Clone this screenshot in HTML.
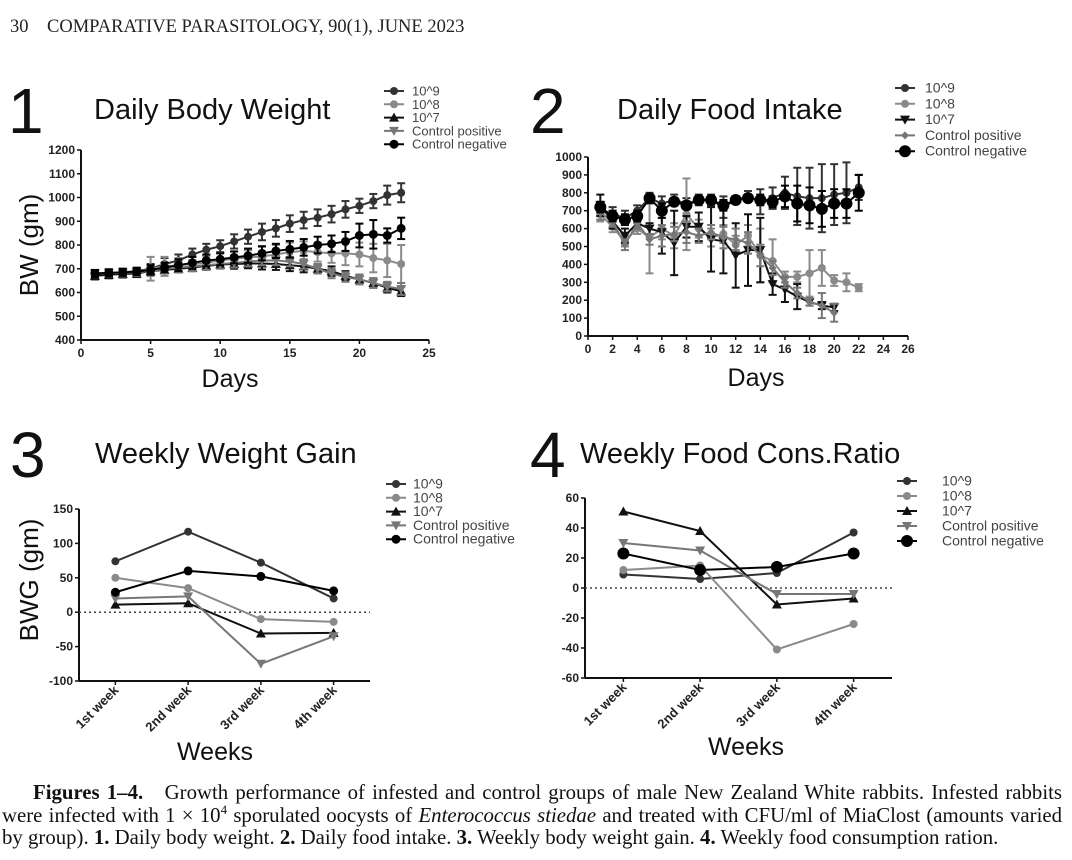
<!DOCTYPE html>
<html><head><meta charset="utf-8"><style>
body{margin:0;background:#fff;width:1072px;height:860px;overflow:hidden;position:relative;font-family:"Liberation Serif",serif}
.hdr{position:absolute;left:10px;top:17px;font-size:18.5px;color:#222}
.cap{position:absolute;left:2px;width:1060px;font-size:20.8px;line-height:22px;color:#111;text-align:justify;text-align-last:justify;white-space:nowrap}
svg{position:absolute;left:0;top:0}
</style></head><body>
<div class="hdr">30&nbsp;&nbsp;&nbsp;&nbsp;COMPARATIVE PARASITOLOGY, 90(1), JUNE 2023</div>
<svg id="fig" width="1072" height="780"></svg>
<div class="cap" style="top:782px;left:33px;width:1029px"><b>Figures 1–4.</b>&nbsp;&nbsp; Growth performance of infested and control groups of male New Zealand White rabbits. Infested rabbits</div>
<div class="cap" style="top:805px">were infected with 1 × 10<sup style="font-size:13px;line-height:0">4</sup> sporulated oocysts of <i>Enterococcus stiedae</i> and treated with CFU/ml of MiaClost (amounts varied</div>
<div class="cap" style="top:827px;text-align-last:left;width:auto">by group). <b>1.</b> Daily body weight. <b>2.</b> Daily food intake. <b>3.</b> Weekly body weight gain. <b>4.</b> Weekly food consumption ration.</div>
<script>
// ---- data ----
const seriesNames = ["10^9","10^8","10^7","Control positive","Control negative"];
const p1Days = [1,2,3,4,5,6,7,8,9,10,11,12,13,14,15,16,17,18,19,20,21,22,23];
const p1_e9 = [675,680,685,690,700,720,735,760,780,795,815,835,855,870,890,905,915,930,950,965,985,1010,1020];
const p1_e8 = [670,675,680,685,700,710,715,720,725,735,742,748,752,760,770,775,770,765,765,760,745,735,720];
const p1_e7 = [670,675,678,680,690,695,700,705,712,718,720,722,722,720,715,710,700,690,670,655,640,620,605];
const p1_cp = [680,682,683,685,690,700,705,710,715,720,725,730,735,735,730,720,700,680,665,655,640,625,615];
const p1_cn = [680,683,685,688,695,705,715,725,735,740,748,755,765,775,782,790,800,805,815,840,845,840,870];
const p1_err9 = [15,15,15,15,20,25,25,25,25,25,30,30,35,35,35,35,35,35,35,30,30,40,40];
const p1_err8 = [15,15,15,15,50,40,30,30,30,30,30,30,40,40,40,40,40,40,50,50,60,70,80];
const p1_err7 = [15,15,15,15,15,15,15,15,15,15,20,20,25,25,25,25,20,20,20,20,20,20,20];
const p1_errcp = [15,15,15,15,20,20,20,20,20,20,20,20,20,20,20,20,20,20,20,20,20,20,25];
const p1_errcn = [15,15,15,15,20,20,25,25,25,25,25,30,30,30,35,35,35,35,40,50,60,30,45];
const p2Days = [1,2,3,4,5,6,7,8,9,10,11,12,13,14,15,16,17,18,19,20,21,22];
const p2_e9 = [700,680,660,700,770,740,760,740,760,760,720,760,780,750,770,800,780,770,770,790,800,830];
const p2_e8 = [680,610,530,600,550,600,560,680,600,550,570,510,560,450,420,330,330,350,380,310,300,270];
const p2_e7 = [730,640,560,630,600,580,520,610,610,540,530,450,480,480,290,260,220,190,170,160];
const p2_cp = [690,640,510,630,540,560,570,580,560,580,550,540,520,450,380,300,240,190,170,130];
const p2_cn = [720,670,650,670,770,700,750,730,760,760,730,760,770,760,750,780,740,730,710,740,740,800];
const p2_err9 = [30,40,40,30,30,40,30,30,30,30,60,20,30,70,60,90,160,170,190,170,170,70];
const p2_err8 = [40,30,30,30,200,60,70,200,50,50,50,50,60,150,120,30,30,130,100,30,50,20];
const p2_err7 = [60,40,40,30,30,120,180,60,80,180,180,180,200,180,60,70,70,20,20,20];
const p2_errcp = [40,30,30,30,30,60,40,60,40,40,60,60,60,60,40,30,30,20,70,50];
const p2_errcn = [30,30,30,30,20,40,20,20,20,20,30,20,20,30,30,60,100,100,100,80,80,100];
const weeks = ["1st week","2nd week","3rd week","4th week"];
const p3_e9 = [74,117,72,20];
const p3_e8 = [50,35,-10,-14];
const p3_e7 = [11,13,-31,-30];
const p3_cp = [20,23,-75,-35];
const p3_cn = [29,60,52,31];
const p4_e9 = [9,6,10,37];
const p4_e8 = [12,15,-41,-24];
const p4_e7 = [51,38,-11,-7];
const p4_cp = [30,25,-4,-4];
const p4_cn = [23,12,14,23];
const p1Ticks = [400,500,600,700,800,900,1000,1100,1200];
const p1XTicks = [0,5,10,15,20,25];
const p2Ticks = [0,100,200,300,400,500,600,700,800,900,1000];
const p2XTicks = [0,2,4,6,8,10,12,14,16,18,20,22,24,26];
const p3Ticks = [-100,-50,0,50,100,150];
const p4Ticks = [-60,-40,-20,0,20,40,60];

// ---- drawing ----
const NS="http://www.w3.org/2000/svg";
const svg=document.getElementById('fig');
function mk(tag,attrs,parent,txt){const e=document.createElementNS(NS,tag);for(const k in attrs)e.setAttribute(k,attrs[k]);if(txt!==undefined)e.textContent=txt;(parent||svg).appendChild(e);return e;}
const styles=[{c:"#333",m:"circle",s:4},{c:"#8a8a8a",m:"circle",s:4},{c:"#111",m:"tri",s:5},{c:"#777",m:"dtri",s:5},{c:"#000",m:"circle",s:4.5}];
function marker(g,m,x,y,s,c){
  if(m==="circle")return mk('circle',{cx:x,cy:y,r:s,fill:c},g);
  if(m==="tri")return mk('polygon',{points:`${x},${y-s} ${x-s},${y+s*0.8} ${x+s},${y+s*0.8}`,fill:c},g);
  if(m==="dtri")return mk('polygon',{points:`${x},${y+s} ${x-s},${y-s*0.8} ${x+s},${y-s*0.8}`,fill:c},g);
  return mk('polygon',{points:`${x},${y-s} ${x+s},${y} ${x},${y+s} ${x-s},${y}`,fill:c},g);
}
function panel(o){
  const g=mk('g',{});
  
  
  const sx=v=>o.x0+(v-o.xmin)/(o.xmax-o.xmin)*(o.x1-o.x0);
  const sy=v=>o.y1-(v-o.ymin)/(o.ymax-o.ymin)*(o.y1-o.y0);
  const big=mk('text',{x:o.numX,y:o.numY,'font-family':'Liberation Sans,sans-serif','font-size':64,fill:'#111'},g,o.num);
  
  
  const t=mk('text',{x:o.titleX,y:o.titleY,'font-family':'Liberation Sans,sans-serif','font-size':29,fill:'#111'},g,o.title);
  
  
  mk('line',{x1:o.x0,y1:o.y0,x2:o.x0,y2:o.y1,stroke:'#111','stroke-width':2},g);
  mk('line',{x1:o.x0,y1:o.y1,x2:o.x1,y2:o.y1,stroke:'#111','stroke-width':2},g);
  o.yTicks.forEach(v=>{const y=sy(v);mk('line',{x1:o.x0-4,y1:y,x2:o.x0,y2:y,stroke:'#111','stroke-width':1.5},g);
    const tl=mk('text',{x:o.x0-6,y:y+4,'text-anchor':'end','font-family':'Liberation Sans,sans-serif','font-size':12,'font-weight':'bold',fill:'#222'},g,v);
    
    });
  if(o.cats){
    o.cats.forEach((c,i)=>{const x=sx(i);mk('line',{x1:x,y1:o.y1,x2:x,y2:o.y1+4,stroke:'#111','stroke-width':1.5},g);
      const tl=mk('text',{x:x+4,y:o.y1+10,'text-anchor':'end','font-family':'Liberation Sans,sans-serif','font-size':13,'font-weight':'bold',fill:'#222',transform:`rotate(-45 ${x+4} ${o.y1+10})`},g,c);
      
      });
    mk('line',{x1:o.x0,y1:sy(0),x2:o.x1,y2:sy(0),stroke:'#444','stroke-width':1.5,'stroke-dasharray':'2,3'},g);
  } else {
    o.xTicks.forEach(v=>{const x=sx(v);mk('line',{x1:x,y1:o.y1,x2:x,y2:o.y1+4,stroke:'#111','stroke-width':1.5},g);
      const tl=mk('text',{x:x,y:o.y1+17,'text-anchor':'middle','font-family':'Liberation Sans,sans-serif','font-size':12,'font-weight':'bold',fill:'#222'},g,v);
      
      });
  }
  const xt=mk('text',{x:o.xtX,y:o.xtY,'text-anchor':'middle','font-family':'Liberation Sans,sans-serif','font-size':25,fill:'#111'},g,o.xTitle);
  
  
  if(o.yTitle){const yt=mk('text',{x:o.ytX,y:o.ytY,'text-anchor':'middle','font-family':'Liberation Sans,sans-serif','font-size':26,fill:'#111',transform:`rotate(-90 ${o.ytX} ${o.ytY})`},g,o.yTitle);
    
    }
  o.series.forEach((vals,si)=>{
    const st=o.styles[si];const sg=mk('g',{},g);
    
    
    const xs=o.cats?vals.map((v,i)=>i):o.xs.slice(0,vals.length);
    if(o.errs){const er=o.errs[si];vals.forEach((v,i)=>{const x=sx(xs[i]);
      mk('line',{x1:x,y1:sy(v-er[i]),x2:x,y2:sy(v+er[i]),stroke:st.c,'stroke-width':2},sg);
      mk('line',{x1:x-4,y1:sy(v-er[i]),x2:x+4,y2:sy(v-er[i]),stroke:st.c,'stroke-width':2},sg);
      mk('line',{x1:x-4,y1:sy(v+er[i]),x2:x+4,y2:sy(v+er[i]),stroke:st.c,'stroke-width':2},sg);});}
    mk('polyline',{points:vals.map((v,i)=>sx(xs[i])+','+sy(v)).join(' '),fill:'none',stroke:st.c,'stroke-width':2},sg);
    vals.forEach((v,i)=>{const p=marker(sg,st.m,sx(xs[i]),sy(v),st.s,st.c);
      
      });
  });
  const lg=mk('g',{},g);
  
  
  seriesNames.forEach((n,i)=>{const y=o.legY+i*o.legDy;const st=o.styles[i];
    const le=mk('g',{},lg);
    
    
    mk('line',{x1:o.legX,y1:y,x2:o.legX+20,y2:y,stroke:st.c,'stroke-width':2},le);
    marker(le,st.m,o.legX+10,y,st.s,st.c);
    mk('text',{x:o.legX+o.legTx,y:y+4.5,'font-family':'Liberation Sans,sans-serif','font-size':o.legFs,fill:'#444'},le,n);});
}
const st2=[styles[0],styles[1],{c:"#111",m:"dtri",s:5},{c:"#777",m:"diamond",s:4},{c:"#000",m:"circle",s:6}];
const st4=[styles[0],styles[1],styles[2],styles[3],{c:"#000",m:"circle",s:6}];
panel({name:'daily-body-weight-chart',num:'1',numX:8,numY:133,title:'Daily Body Weight',titleX:94,titleY:119,
  x0:81,x1:429,y0:150,y1:340,xmin:0,xmax:25,ymin:400,ymax:1200,yTicks:p1Ticks,xTicks:p1XTicks,xs:p1Days,
  series:[p1_e9,p1_e8,p1_e7,p1_cp,p1_cn],errs:[p1_err9,p1_err8,p1_err7,p1_errcp,p1_errcn],styles:styles,
  xTitle:'Days',xtX:230,xtY:387,yTitle:'BW (gm)',ytX:38,ytY:245,legX:384,legY:91,legDy:13.3,legTx:28,legFs:13});
panel({name:'daily-food-intake-chart',num:'2',numX:530,numY:133,title:'Daily Food Intake',titleX:617,titleY:119,
  x0:588,x1:908,y0:157,y1:336,xmin:0,xmax:26,ymin:0,ymax:1000,yTicks:p2Ticks,xTicks:p2XTicks,xs:p2Days,
  series:[p2_e9,p2_e8,p2_e7,p2_cp,p2_cn],errs:[p2_err9,p2_err8,p2_err7,p2_errcp,p2_errcn],styles:st2,
  xTitle:'Days',xtX:756,xtY:386,legX:895,legY:88,legDy:15.8,legTx:30,legFs:14});
panel({name:'weekly-weight-gain-chart',num:'3',numX:10,numY:477,title:'Weekly Weight Gain',titleX:95,titleY:463,
  x0:79,x1:370,y0:509,y1:681,xmin:-0.5,xmax:3.5,ymin:-100,ymax:150,yTicks:p3Ticks,cats:weeks,
  series:[p3_e9,p3_e8,p3_e7,p3_cp,p3_cn],styles:styles,
  xTitle:'Weeks',xtX:215,xtY:760,yTitle:'BWG (gm)',ytX:38,ytY:580,legX:386,legY:484,legDy:13.8,legTx:27,legFs:14});
panel({name:'weekly-food-ratio-chart',num:'4',numX:530,numY:477,title:'Weekly Food Cons.Ratio',titleX:580,titleY:463,
  x0:585,x1:892,y0:498,y1:678,xmin:-0.5,xmax:3.5,ymin:-60,ymax:60,yTicks:p4Ticks,cats:weeks,
  series:[p4_e9,p4_e8,p4_e7,p4_cp,p4_cn],styles:st4,
  xTitle:'Weeks',xtX:746,xtY:755,legX:897,legY:481,legDy:15,legTx:45,legFs:14});
</script>
</body></html>
